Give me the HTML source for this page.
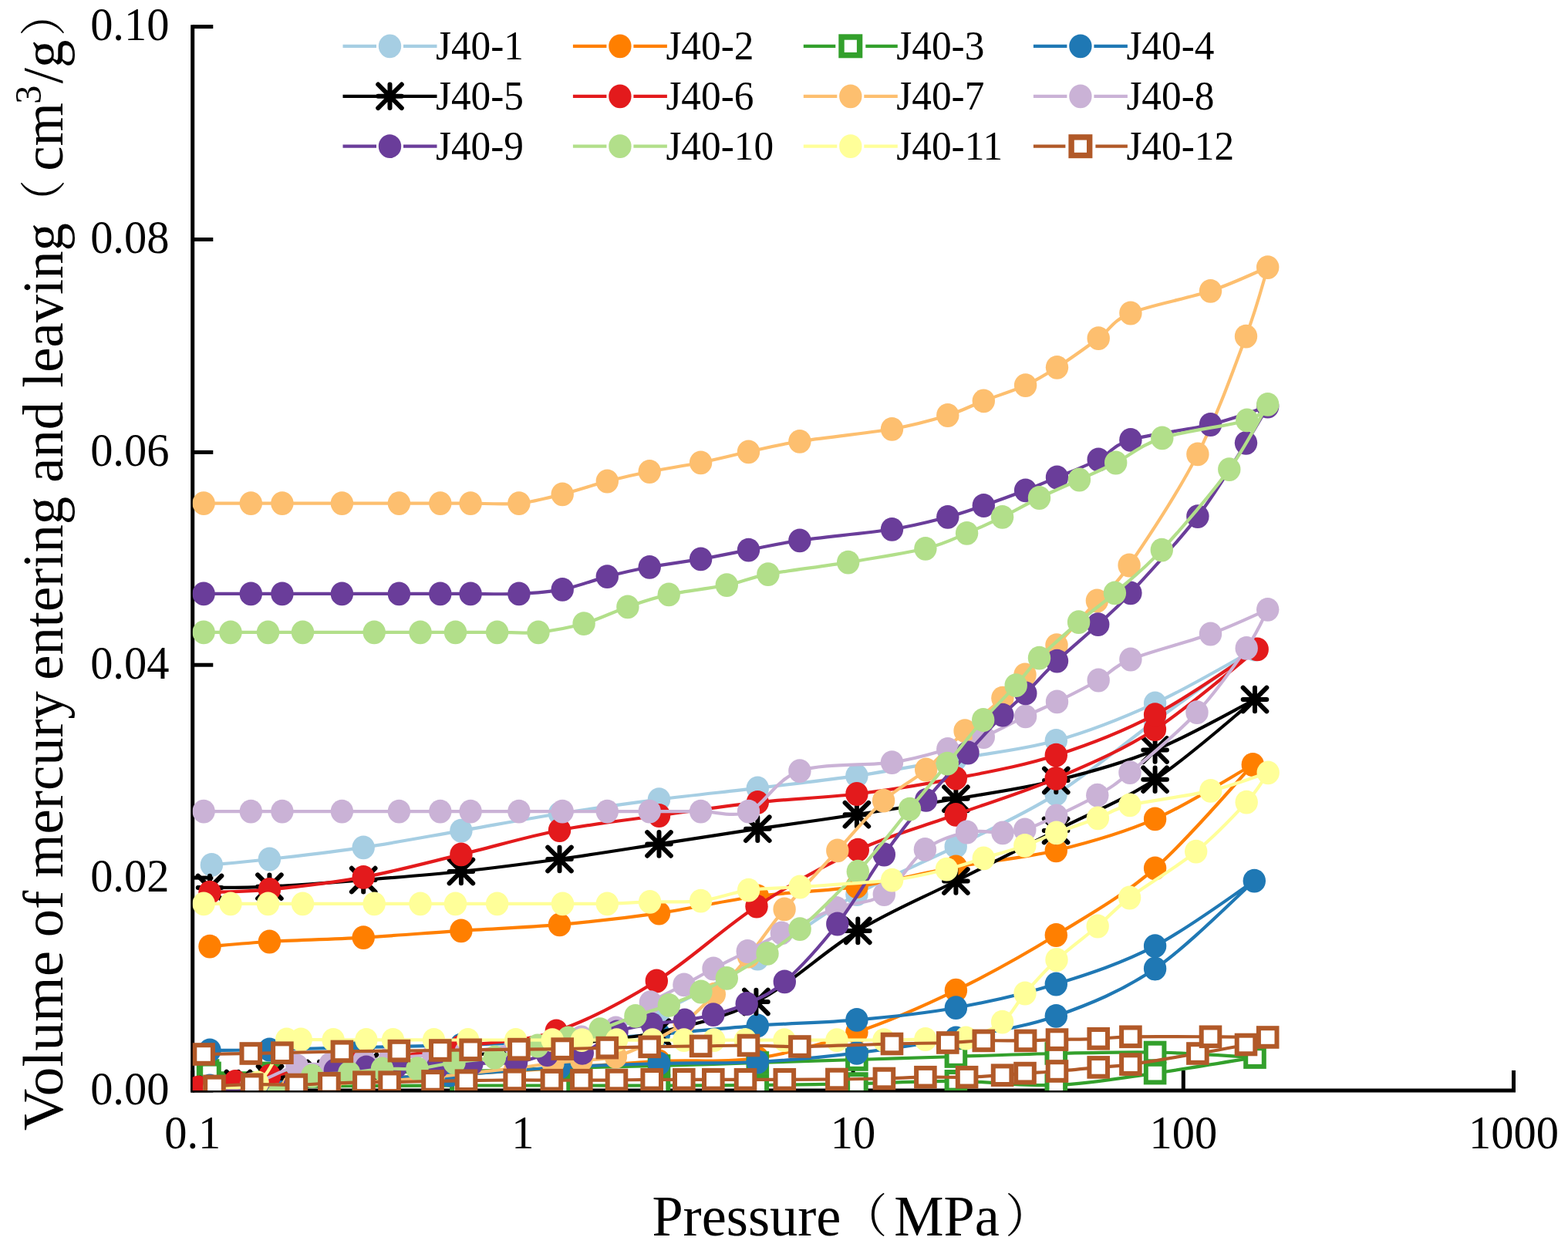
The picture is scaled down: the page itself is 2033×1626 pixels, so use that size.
<!DOCTYPE html><html><head><meta charset="utf-8"><title>Mercury intrusion chart</title><style>html,body{margin:0;padding:0;background:#fff;}svg{display:block;}.t{font-family:"Liberation Serif","Noto Serif CJK SC",serif;fill:#000;}</style></head><body>
<svg xmlns="http://www.w3.org/2000/svg" width="2033" height="1626" viewBox="0 0 2033 1626">
<rect width="2033" height="1626" fill="#fff"/>
<defs><clipPath id="pa"><rect x="249.7" y="20" width="1720" height="1394.0"/></clipPath></defs>
<g stroke="#000" stroke-width="5" fill="none">
<path d="M249.7,32.3V1416.5"/>
<path d="M247.2,1414.0H1965"/>
<path d="M249.7,1414.0H276.3"/>
<path d="M249.7,1138.1H276.3"/>
<path d="M249.7,862.2H276.3"/>
<path d="M249.7,586.4H276.3"/>
<path d="M249.7,310.5H276.3"/>
<path d="M249.7,34.6H276.3"/>
<path d="M249.7,1414.0V1387.9"/>
<path d="M677.9,1414.0V1387.9"/>
<path d="M1106.1,1414.0V1387.9"/>
<path d="M1534.3,1414.0V1387.9"/>
<path d="M1962.5,1414.0V1387.9"/>
</g>
<text class="t" transform="translate(219.5,1431.8) scale(1,1.045)" font-size="58.5" text-anchor="end">0.00</text>
<text class="t" transform="translate(219.5,1155.9) scale(1,1.045)" font-size="58.5" text-anchor="end">0.02</text>
<text class="t" transform="translate(219.5,880.0) scale(1,1.045)" font-size="58.5" text-anchor="end">0.04</text>
<text class="t" transform="translate(219.5,604.2) scale(1,1.045)" font-size="58.5" text-anchor="end">0.06</text>
<text class="t" transform="translate(219.5,328.3) scale(1,1.045)" font-size="58.5" text-anchor="end">0.08</text>
<text class="t" transform="translate(219.5,52.4) scale(1,1.045)" font-size="58.5" text-anchor="end">0.10</text>
<text class="t" transform="translate(249.7,1488.5) scale(1,1.045)" font-size="58.5" text-anchor="middle">0.1</text>
<text class="t" transform="translate(677.9,1488.5) scale(1,1.045)" font-size="58.5" text-anchor="middle">1</text>
<text class="t" transform="translate(1106.1,1488.5) scale(1,1.045)" font-size="58.5" text-anchor="middle">10</text>
<text class="t" transform="translate(1534.3,1488.5) scale(1,1.045)" font-size="58.5" text-anchor="middle">100</text>
<text class="t" transform="translate(1962.5,1488.5) scale(1,1.045)" font-size="58.5" text-anchor="middle">1000</text>
<text class="t" transform="translate(845.4,1602.3) scale(0.977,1)" font-size="74">Pressure<tspan x="252.2" dy="-4" font-size="60">（</tspan><tspan x="321.3" dy="4">MPa</tspan><tspan x="468.7" dy="-4" font-size="60">）</tspan></text>
<text class="t" transform="translate(81.2,1465) rotate(-90) scale(0.981,1)" font-size="74"><tspan x="-1" y="0" textLength="237.6" lengthAdjust="spacingAndGlyphs">Volume</tspan> <tspan x="254.5">of</tspan> <tspan x="333.4">mercury</tspan> <tspan x="594.5">entering and leaving</tspan><tspan x="1196" y="-3.5" font-size="60">（</tspan><tspan x="1267.3" y="0">cm</tspan><tspan x="1355.9" y="-28.3" font-size="49">3</tspan><tspan x="1383.1" y="0">/g</tspan><tspan x="1445.4" y="-3.5" font-size="60">）</tspan></text>
<g clip-path="url(#pa)">
<path d="M272.0,1400.0 C284.9,1399.3 316.2,1397.7 349.4,1396.0 C382.6,1394.3 429.8,1393.0 471.2,1390.0 C512.6,1387.0 555.5,1384.3 597.9,1378.0 C640.3,1371.7 682.7,1363.0 725.5,1352.0 C768.3,1341.0 811.7,1330.2 854.5,1312.0 C897.3,1293.8 939.6,1268.4 982.3,1243.0 C1025.0,1217.6 1068.1,1183.7 1110.9,1159.5 C1153.7,1135.3 1196.2,1119.3 1239.2,1097.7 C1282.2,1076.1 1326.0,1057.0 1369.1,1029.9 C1412.2,1002.8 1454.6,966.3 1497.6,935.0 C1540.6,903.7 1605.4,857.5 1627.0,842.0 C1605.4,853.6 1540.5,892.1 1497.6,911.8 C1454.6,931.5 1412.3,948.3 1369.3,960.3 C1326.3,972.3 1282.5,976.4 1239.4,984.0 C1196.3,991.6 1153.8,999.6 1110.9,1005.9 C1068.1,1012.2 1025.0,1016.7 982.3,1021.8 C939.6,1026.9 897.3,1031.1 854.5,1036.6 C811.7,1042.1 768.3,1048.2 725.5,1055.0 C682.7,1061.8 640.3,1069.8 597.9,1077.1 C555.5,1084.4 512.6,1092.6 471.2,1098.8 C429.8,1105.0 382.2,1110.2 349.4,1114.0 C316.6,1117.8 286.9,1120.2 274.4,1121.4" fill="none" stroke="#a6cee3" stroke-width="4.2" stroke-linejoin="round"/>
<ellipse cx="272.0" cy="1400.0" rx="14.7" ry="15.4" fill="#a6cee3"/>
<ellipse cx="349.4" cy="1396.0" rx="14.7" ry="15.4" fill="#a6cee3"/>
<ellipse cx="471.2" cy="1390.0" rx="14.7" ry="15.4" fill="#a6cee3"/>
<ellipse cx="597.9" cy="1378.0" rx="14.7" ry="15.4" fill="#a6cee3"/>
<ellipse cx="725.5" cy="1352.0" rx="14.7" ry="15.4" fill="#a6cee3"/>
<ellipse cx="854.5" cy="1312.0" rx="14.7" ry="15.4" fill="#a6cee3"/>
<ellipse cx="982.3" cy="1243.0" rx="14.7" ry="15.4" fill="#a6cee3"/>
<ellipse cx="1110.9" cy="1159.5" rx="14.7" ry="15.4" fill="#a6cee3"/>
<ellipse cx="1239.2" cy="1097.7" rx="14.7" ry="15.4" fill="#a6cee3"/>
<ellipse cx="1369.1" cy="1029.9" rx="14.7" ry="15.4" fill="#a6cee3"/>
<ellipse cx="1497.6" cy="935.0" rx="14.7" ry="15.4" fill="#a6cee3"/>
<ellipse cx="1627.0" cy="842.0" rx="14.7" ry="15.4" fill="#a6cee3"/>
<ellipse cx="1497.6" cy="911.8" rx="14.7" ry="15.4" fill="#a6cee3"/>
<ellipse cx="1369.3" cy="960.3" rx="14.7" ry="15.4" fill="#a6cee3"/>
<ellipse cx="1239.4" cy="984.0" rx="14.7" ry="15.4" fill="#a6cee3"/>
<ellipse cx="1110.9" cy="1005.9" rx="14.7" ry="15.4" fill="#a6cee3"/>
<ellipse cx="982.3" cy="1021.8" rx="14.7" ry="15.4" fill="#a6cee3"/>
<ellipse cx="854.5" cy="1036.6" rx="14.7" ry="15.4" fill="#a6cee3"/>
<ellipse cx="725.5" cy="1055.0" rx="14.7" ry="15.4" fill="#a6cee3"/>
<ellipse cx="597.9" cy="1077.1" rx="14.7" ry="15.4" fill="#a6cee3"/>
<ellipse cx="471.2" cy="1098.8" rx="14.7" ry="15.4" fill="#a6cee3"/>
<ellipse cx="349.4" cy="1114.0" rx="14.7" ry="15.4" fill="#a6cee3"/>
<ellipse cx="274.4" cy="1121.4" rx="14.7" ry="15.4" fill="#a6cee3"/>
<path d="M272.0,1406.0 C284.9,1405.7 316.2,1405.2 349.4,1404.0 C382.6,1402.8 429.8,1400.8 471.2,1399.0 C512.6,1397.2 555.5,1395.3 597.9,1393.0 C640.3,1390.7 682.7,1387.8 725.5,1385.0 C768.3,1382.2 811.7,1378.2 854.5,1376.0 C897.3,1373.8 939.6,1378.3 982.3,1372.0 C1025.0,1365.7 1068.1,1353.0 1110.9,1338.4 C1153.8,1323.8 1196.3,1305.2 1239.4,1284.2 C1282.5,1263.2 1326.3,1238.9 1369.3,1212.5 C1412.3,1186.1 1455.1,1162.6 1497.6,1125.8 C1540.1,1089.0 1603.2,1013.9 1624.3,991.5 C1603.2,1003.2 1540.1,1043.4 1497.6,1061.9 C1455.1,1080.5 1412.3,1092.5 1369.3,1102.8 C1326.3,1113.1 1282.5,1116.2 1239.4,1124.0 C1196.3,1131.8 1153.8,1143.4 1110.9,1149.7 C1068.1,1156.0 1025.0,1156.3 982.3,1162.0 C939.6,1167.7 897.3,1177.9 854.5,1184.1 C811.7,1190.2 768.3,1195.1 725.5,1198.9 C682.7,1202.7 640.3,1204.0 597.9,1206.8 C555.5,1209.6 512.6,1213.2 471.2,1215.6 C429.8,1218.0 382.6,1219.1 349.4,1221.0 C316.2,1222.9 284.9,1226.2 272.0,1227.2" fill="none" stroke="#ff7f00" stroke-width="4.2" stroke-linejoin="round"/>
<ellipse cx="272.0" cy="1406.0" rx="14.7" ry="15.4" fill="#ff7f00"/>
<ellipse cx="349.4" cy="1404.0" rx="14.7" ry="15.4" fill="#ff7f00"/>
<ellipse cx="471.2" cy="1399.0" rx="14.7" ry="15.4" fill="#ff7f00"/>
<ellipse cx="597.9" cy="1393.0" rx="14.7" ry="15.4" fill="#ff7f00"/>
<ellipse cx="725.5" cy="1385.0" rx="14.7" ry="15.4" fill="#ff7f00"/>
<ellipse cx="854.5" cy="1376.0" rx="14.7" ry="15.4" fill="#ff7f00"/>
<ellipse cx="982.3" cy="1372.0" rx="14.7" ry="15.4" fill="#ff7f00"/>
<ellipse cx="1110.9" cy="1338.4" rx="14.7" ry="15.4" fill="#ff7f00"/>
<ellipse cx="1239.4" cy="1284.2" rx="14.7" ry="15.4" fill="#ff7f00"/>
<ellipse cx="1369.3" cy="1212.5" rx="14.7" ry="15.4" fill="#ff7f00"/>
<ellipse cx="1497.6" cy="1125.8" rx="14.7" ry="15.4" fill="#ff7f00"/>
<ellipse cx="1624.3" cy="991.5" rx="14.7" ry="15.4" fill="#ff7f00"/>
<ellipse cx="1497.6" cy="1061.9" rx="14.7" ry="15.4" fill="#ff7f00"/>
<ellipse cx="1369.3" cy="1102.8" rx="14.7" ry="15.4" fill="#ff7f00"/>
<ellipse cx="1239.4" cy="1124.0" rx="14.7" ry="15.4" fill="#ff7f00"/>
<ellipse cx="1110.9" cy="1149.7" rx="14.7" ry="15.4" fill="#ff7f00"/>
<ellipse cx="982.3" cy="1162.0" rx="14.7" ry="15.4" fill="#ff7f00"/>
<ellipse cx="854.5" cy="1184.1" rx="14.7" ry="15.4" fill="#ff7f00"/>
<ellipse cx="725.5" cy="1198.9" rx="14.7" ry="15.4" fill="#ff7f00"/>
<ellipse cx="597.9" cy="1206.8" rx="14.7" ry="15.4" fill="#ff7f00"/>
<ellipse cx="471.2" cy="1215.6" rx="14.7" ry="15.4" fill="#ff7f00"/>
<ellipse cx="349.4" cy="1221.0" rx="14.7" ry="15.4" fill="#ff7f00"/>
<ellipse cx="272.0" cy="1227.2" rx="14.7" ry="15.4" fill="#ff7f00"/>
<path d="M269.6,1388.0 C282.9,1391.2 315.8,1403.7 349.4,1407.0 C383.0,1410.3 429.8,1407.9 471.2,1408.0 C512.6,1408.1 555.5,1407.6 597.9,1407.5 C640.3,1407.4 682.7,1407.5 725.5,1407.5 C768.3,1407.5 811.7,1407.6 854.5,1407.5 C897.3,1407.4 939.6,1407.4 982.3,1407.0 C1025.0,1406.6 1068.1,1405.9 1110.9,1405.0 C1153.8,1404.1 1196.3,1401.5 1239.4,1401.8 C1282.5,1402.1 1326.3,1408.7 1369.3,1407.0 C1412.3,1405.3 1454.6,1397.6 1497.6,1391.6 C1540.5,1385.6 1605.4,1374.5 1627.0,1371.1 C1605.4,1370.0 1540.5,1365.3 1497.6,1364.5 C1454.6,1363.7 1412.3,1365.1 1369.3,1366.0 C1326.3,1366.9 1282.5,1368.7 1239.4,1370.0 C1196.3,1371.3 1153.8,1372.7 1110.9,1374.0 C1068.1,1375.3 1025.0,1376.7 982.3,1378.0 C939.6,1379.3 897.3,1380.8 854.5,1382.0 C811.7,1383.2 768.3,1383.8 725.5,1385.0 C682.7,1386.2 640.3,1388.1 597.9,1389.0 C555.5,1389.9 512.6,1390.1 471.2,1390.5 C429.8,1390.9 382.6,1391.2 349.4,1391.4 C316.2,1391.6 284.9,1391.4 272.0,1391.4" fill="none" stroke="#33a02c" stroke-width="4.2" stroke-linejoin="round"/>
<rect x="257.8" y="1376.2" width="23.6" height="23.6" fill="#fff" stroke="#33a02c" stroke-width="6"/>
<rect x="337.6" y="1395.2" width="23.6" height="23.6" fill="#fff" stroke="#33a02c" stroke-width="6"/>
<rect x="459.4" y="1396.2" width="23.6" height="23.6" fill="#fff" stroke="#33a02c" stroke-width="6"/>
<rect x="586.1" y="1395.7" width="23.6" height="23.6" fill="#fff" stroke="#33a02c" stroke-width="6"/>
<rect x="713.7" y="1395.7" width="23.6" height="23.6" fill="#fff" stroke="#33a02c" stroke-width="6"/>
<rect x="842.7" y="1395.7" width="23.6" height="23.6" fill="#fff" stroke="#33a02c" stroke-width="6"/>
<rect x="970.5" y="1395.2" width="23.6" height="23.6" fill="#fff" stroke="#33a02c" stroke-width="6"/>
<rect x="1099.1" y="1393.2" width="23.6" height="23.6" fill="#fff" stroke="#33a02c" stroke-width="6"/>
<rect x="1227.6" y="1390.0" width="23.6" height="23.6" fill="#fff" stroke="#33a02c" stroke-width="6"/>
<rect x="1357.5" y="1395.2" width="23.6" height="23.6" fill="#fff" stroke="#33a02c" stroke-width="6"/>
<rect x="1485.8" y="1379.8" width="23.6" height="23.6" fill="#fff" stroke="#33a02c" stroke-width="6"/>
<rect x="1615.2" y="1359.3" width="23.6" height="23.6" fill="#fff" stroke="#33a02c" stroke-width="6"/>
<rect x="1485.8" y="1352.7" width="23.6" height="23.6" fill="#fff" stroke="#33a02c" stroke-width="6"/>
<rect x="1357.5" y="1354.2" width="23.6" height="23.6" fill="#fff" stroke="#33a02c" stroke-width="6"/>
<rect x="1227.6" y="1358.2" width="23.6" height="23.6" fill="#fff" stroke="#33a02c" stroke-width="6"/>
<rect x="1099.1" y="1362.2" width="23.6" height="23.6" fill="#fff" stroke="#33a02c" stroke-width="6"/>
<rect x="970.5" y="1366.2" width="23.6" height="23.6" fill="#fff" stroke="#33a02c" stroke-width="6"/>
<rect x="842.7" y="1370.2" width="23.6" height="23.6" fill="#fff" stroke="#33a02c" stroke-width="6"/>
<rect x="713.7" y="1373.2" width="23.6" height="23.6" fill="#fff" stroke="#33a02c" stroke-width="6"/>
<rect x="586.1" y="1377.2" width="23.6" height="23.6" fill="#fff" stroke="#33a02c" stroke-width="6"/>
<rect x="459.4" y="1378.7" width="23.6" height="23.6" fill="#fff" stroke="#33a02c" stroke-width="6"/>
<rect x="337.6" y="1379.6" width="23.6" height="23.6" fill="#fff" stroke="#33a02c" stroke-width="6"/>
<rect x="260.2" y="1379.6" width="23.6" height="23.6" fill="#fff" stroke="#33a02c" stroke-width="6"/>
<path d="M272.0,1408.0 C284.9,1407.0 316.2,1403.7 349.4,1402.0 C382.6,1400.3 432.3,1399.3 471.2,1398.0 C510.1,1396.7 540.6,1396.3 583.0,1394.0 C625.4,1391.7 680.2,1386.5 725.5,1384.0 C770.8,1381.5 811.7,1380.2 854.5,1379.0 C897.3,1377.8 939.6,1379.3 982.3,1377.0 C1025.0,1374.7 1068.1,1370.6 1110.9,1365.4 C1153.8,1360.2 1196.3,1354.0 1239.4,1346.0 C1282.5,1338.0 1326.3,1332.4 1369.3,1317.4 C1412.3,1302.4 1454.8,1285.2 1497.6,1256.0 C1540.4,1226.8 1604.8,1161.2 1626.3,1142.2 C1604.8,1156.3 1540.4,1204.3 1497.6,1226.6 C1454.8,1248.9 1412.3,1262.7 1369.3,1276.0 C1326.3,1289.3 1282.5,1299.0 1239.4,1306.7 C1196.3,1314.4 1153.8,1318.6 1110.9,1322.4 C1068.1,1326.2 1025.0,1326.7 982.3,1329.8 C939.6,1332.9 897.3,1337.6 854.5,1341.0 C811.7,1344.4 768.3,1347.7 725.5,1350.0 C682.7,1352.3 640.3,1353.7 597.9,1355.0 C555.5,1356.3 512.6,1357.0 471.2,1358.0 C429.8,1359.0 382.6,1360.3 349.4,1361.0 C316.2,1361.7 284.9,1361.8 272.0,1362.0" fill="none" stroke="#1f78b4" stroke-width="4.2" stroke-linejoin="round"/>
<ellipse cx="272.0" cy="1408.0" rx="14.7" ry="15.4" fill="#1f78b4"/>
<ellipse cx="349.4" cy="1402.0" rx="14.7" ry="15.4" fill="#1f78b4"/>
<ellipse cx="471.2" cy="1398.0" rx="14.7" ry="15.4" fill="#1f78b4"/>
<ellipse cx="583.0" cy="1394.0" rx="14.7" ry="15.4" fill="#1f78b4"/>
<ellipse cx="725.5" cy="1384.0" rx="14.7" ry="15.4" fill="#1f78b4"/>
<ellipse cx="854.5" cy="1379.0" rx="14.7" ry="15.4" fill="#1f78b4"/>
<ellipse cx="982.3" cy="1377.0" rx="14.7" ry="15.4" fill="#1f78b4"/>
<ellipse cx="1110.9" cy="1365.4" rx="14.7" ry="15.4" fill="#1f78b4"/>
<ellipse cx="1239.4" cy="1346.0" rx="14.7" ry="15.4" fill="#1f78b4"/>
<ellipse cx="1369.3" cy="1317.4" rx="14.7" ry="15.4" fill="#1f78b4"/>
<ellipse cx="1497.6" cy="1256.0" rx="14.7" ry="15.4" fill="#1f78b4"/>
<ellipse cx="1626.3" cy="1142.2" rx="14.7" ry="15.4" fill="#1f78b4"/>
<ellipse cx="1497.6" cy="1226.6" rx="14.7" ry="15.4" fill="#1f78b4"/>
<ellipse cx="1369.3" cy="1276.0" rx="14.7" ry="15.4" fill="#1f78b4"/>
<ellipse cx="1239.4" cy="1306.7" rx="14.7" ry="15.4" fill="#1f78b4"/>
<ellipse cx="1110.9" cy="1322.4" rx="14.7" ry="15.4" fill="#1f78b4"/>
<ellipse cx="982.3" cy="1329.8" rx="14.7" ry="15.4" fill="#1f78b4"/>
<ellipse cx="854.5" cy="1341.0" rx="14.7" ry="15.4" fill="#1f78b4"/>
<ellipse cx="725.5" cy="1350.0" rx="14.7" ry="15.4" fill="#1f78b4"/>
<ellipse cx="597.9" cy="1355.0" rx="14.7" ry="15.4" fill="#1f78b4"/>
<ellipse cx="471.2" cy="1358.0" rx="14.7" ry="15.4" fill="#1f78b4"/>
<ellipse cx="349.4" cy="1361.0" rx="14.7" ry="15.4" fill="#1f78b4"/>
<ellipse cx="272.0" cy="1362.0" rx="14.7" ry="15.4" fill="#1f78b4"/>
<path d="M275.0,1413.0 C280.7,1411.7 296.5,1407.5 309.0,1405.0 C321.5,1402.5 332.5,1400.2 350.0,1398.0 C367.5,1395.8 393.5,1394.5 414.0,1392.0 C434.5,1389.5 442.4,1386.7 473.0,1383.0 C503.6,1379.3 555.8,1374.7 597.9,1370.0 C640.0,1365.3 683.1,1360.2 725.5,1355.0 C767.9,1349.8 809.5,1348.0 852.0,1338.7 C894.5,1329.4 937.0,1321.0 980.4,1299.0 C1023.8,1277.0 1069.1,1233.0 1112.3,1206.9 C1155.5,1180.8 1196.6,1164.2 1239.4,1142.5 C1282.2,1120.8 1326.1,1099.0 1369.1,1077.0 C1412.1,1055.0 1454.6,1039.0 1497.6,1010.7 C1540.6,982.4 1605.4,924.3 1627.0,907.0 C1605.4,917.9 1540.5,955.0 1497.6,972.5 C1454.6,990.0 1412.3,1001.5 1369.3,1012.0 C1326.3,1022.5 1282.5,1028.4 1239.4,1035.8 C1196.3,1043.2 1153.8,1049.7 1110.9,1056.2 C1068.1,1062.7 1025.0,1068.3 982.3,1074.7 C939.6,1081.1 897.3,1087.9 854.5,1094.4 C811.7,1101.0 768.3,1108.1 725.5,1114.0 C682.7,1119.9 640.3,1125.5 597.9,1130.0 C555.5,1134.5 512.6,1137.8 471.2,1141.1 C429.8,1144.4 382.6,1148.0 349.4,1149.7 C316.2,1151.4 284.9,1150.8 272.0,1151.0" fill="none" stroke="#000000" stroke-width="4.2" stroke-linejoin="round"/>
<path d="M275.0,1397.7v30.6M259.7,1413.0h30.6M259.7,1397.7l30.6,30.6M259.7,1428.3l30.6,-30.6" stroke="#000000" stroke-width="6" stroke-linecap="round" fill="none"/>
<path d="M309.0,1389.7v30.6M293.7,1405.0h30.6M293.7,1389.7l30.6,30.6M293.7,1420.3l30.6,-30.6" stroke="#000000" stroke-width="6" stroke-linecap="round" fill="none"/>
<path d="M350.0,1382.7v30.6M334.7,1398.0h30.6M334.7,1382.7l30.6,30.6M334.7,1413.3l30.6,-30.6" stroke="#000000" stroke-width="6" stroke-linecap="round" fill="none"/>
<path d="M414.0,1376.7v30.6M398.7,1392.0h30.6M398.7,1376.7l30.6,30.6M398.7,1407.3l30.6,-30.6" stroke="#000000" stroke-width="6" stroke-linecap="round" fill="none"/>
<path d="M473.0,1367.7v30.6M457.7,1383.0h30.6M457.7,1367.7l30.6,30.6M457.7,1398.3l30.6,-30.6" stroke="#000000" stroke-width="6" stroke-linecap="round" fill="none"/>
<path d="M597.9,1354.7v30.6M582.6,1370.0h30.6M582.6,1354.7l30.6,30.6M582.6,1385.3l30.6,-30.6" stroke="#000000" stroke-width="6" stroke-linecap="round" fill="none"/>
<path d="M725.5,1339.7v30.6M710.2,1355.0h30.6M710.2,1339.7l30.6,30.6M710.2,1370.3l30.6,-30.6" stroke="#000000" stroke-width="6" stroke-linecap="round" fill="none"/>
<path d="M852.0,1323.4v30.6M836.7,1338.7h30.6M836.7,1323.4l30.6,30.6M836.7,1354.0l30.6,-30.6" stroke="#000000" stroke-width="6" stroke-linecap="round" fill="none"/>
<path d="M980.4,1283.7v30.6M965.1,1299.0h30.6M965.1,1283.7l30.6,30.6M965.1,1314.3l30.6,-30.6" stroke="#000000" stroke-width="6" stroke-linecap="round" fill="none"/>
<path d="M1112.3,1191.6v30.6M1097.0,1206.9h30.6M1097.0,1191.6l30.6,30.6M1097.0,1222.2l30.6,-30.6" stroke="#000000" stroke-width="6" stroke-linecap="round" fill="none"/>
<path d="M1239.4,1127.2v30.6M1224.1,1142.5h30.6M1224.1,1127.2l30.6,30.6M1224.1,1157.8l30.6,-30.6" stroke="#000000" stroke-width="6" stroke-linecap="round" fill="none"/>
<path d="M1369.1,1061.7v30.6M1353.8,1077.0h30.6M1353.8,1061.7l30.6,30.6M1353.8,1092.3l30.6,-30.6" stroke="#000000" stroke-width="6" stroke-linecap="round" fill="none"/>
<path d="M1497.6,995.4v30.6M1482.3,1010.7h30.6M1482.3,995.4l30.6,30.6M1482.3,1026.0l30.6,-30.6" stroke="#000000" stroke-width="6" stroke-linecap="round" fill="none"/>
<path d="M1627.0,891.7v30.6M1611.7,907.0h30.6M1611.7,891.7l30.6,30.6M1611.7,922.3l30.6,-30.6" stroke="#000000" stroke-width="6" stroke-linecap="round" fill="none"/>
<path d="M1497.6,957.2v30.6M1482.3,972.5h30.6M1482.3,957.2l30.6,30.6M1482.3,987.8l30.6,-30.6" stroke="#000000" stroke-width="6" stroke-linecap="round" fill="none"/>
<path d="M1369.3,996.7v30.6M1354.0,1012.0h30.6M1354.0,996.7l30.6,30.6M1354.0,1027.3l30.6,-30.6" stroke="#000000" stroke-width="6" stroke-linecap="round" fill="none"/>
<path d="M1239.4,1020.5v30.6M1224.1,1035.8h30.6M1224.1,1020.5l30.6,30.6M1224.1,1051.1l30.6,-30.6" stroke="#000000" stroke-width="6" stroke-linecap="round" fill="none"/>
<path d="M1110.9,1040.9v30.6M1095.6,1056.2h30.6M1095.6,1040.9l30.6,30.6M1095.6,1071.5l30.6,-30.6" stroke="#000000" stroke-width="6" stroke-linecap="round" fill="none"/>
<path d="M982.3,1059.4v30.6M967.0,1074.7h30.6M967.0,1059.4l30.6,30.6M967.0,1090.0l30.6,-30.6" stroke="#000000" stroke-width="6" stroke-linecap="round" fill="none"/>
<path d="M854.5,1079.1v30.6M839.2,1094.4h30.6M839.2,1079.1l30.6,30.6M839.2,1109.7l30.6,-30.6" stroke="#000000" stroke-width="6" stroke-linecap="round" fill="none"/>
<path d="M725.5,1098.7v30.6M710.2,1114.0h30.6M710.2,1098.7l30.6,30.6M710.2,1129.3l30.6,-30.6" stroke="#000000" stroke-width="6" stroke-linecap="round" fill="none"/>
<path d="M597.9,1114.7v30.6M582.6,1130.0h30.6M582.6,1114.7l30.6,30.6M582.6,1145.3l30.6,-30.6" stroke="#000000" stroke-width="6" stroke-linecap="round" fill="none"/>
<path d="M471.2,1125.8v30.6M455.9,1141.1h30.6M455.9,1125.8l30.6,30.6M455.9,1156.4l30.6,-30.6" stroke="#000000" stroke-width="6" stroke-linecap="round" fill="none"/>
<path d="M349.4,1134.4v30.6M334.1,1149.7h30.6M334.1,1134.4l30.6,30.6M334.1,1165.0l30.6,-30.6" stroke="#000000" stroke-width="6" stroke-linecap="round" fill="none"/>
<path d="M272.0,1135.7v30.6M256.7,1151.0h30.6M256.7,1135.7l30.6,30.6M256.7,1166.3l30.6,-30.6" stroke="#000000" stroke-width="6" stroke-linecap="round" fill="none"/>
<path d="M257.0,1410.0 C265.0,1408.8 289.6,1405.0 305.0,1402.5 C320.4,1400.0 322.9,1399.1 349.6,1395.0 C376.3,1390.9 423.6,1384.3 465.0,1378.0 C506.4,1371.7 555.2,1363.8 597.9,1357.0 C640.6,1350.2 679.1,1351.2 721.3,1337.0 C763.5,1322.8 808.0,1299.0 851.3,1272.0 C894.6,1245.0 937.5,1203.5 981.0,1175.2 C1024.5,1146.9 1069.2,1121.9 1112.3,1102.1 C1155.3,1082.3 1196.5,1071.8 1239.3,1056.3 C1282.1,1040.8 1326.1,1027.8 1369.1,1009.4 C1412.1,991.0 1453.9,973.6 1497.4,945.7 C1540.9,917.8 1608.1,859.2 1630.2,841.9 C1608.1,856.0 1541.1,903.7 1497.6,926.6 C1454.1,949.5 1412.3,965.5 1369.3,979.2 C1326.3,993.0 1282.5,1000.7 1239.4,1009.1 C1196.3,1017.5 1153.8,1024.3 1110.9,1029.5 C1068.1,1034.7 1025.0,1035.6 982.3,1040.3 C939.6,1045.0 897.3,1051.5 854.5,1057.5 C811.7,1063.5 768.3,1068.1 725.5,1076.5 C682.7,1084.9 640.3,1097.8 597.9,1107.9 C555.5,1118.1 512.6,1129.8 471.2,1137.4 C429.8,1145.0 382.6,1150.1 349.4,1153.4 C316.2,1156.7 284.9,1156.5 272.0,1157.1" fill="none" stroke="#e31a1c" stroke-width="4.2" stroke-linejoin="round"/>
<ellipse cx="257.0" cy="1410.0" rx="14.7" ry="15.4" fill="#e31a1c"/>
<ellipse cx="305.0" cy="1402.5" rx="14.7" ry="15.4" fill="#e31a1c"/>
<ellipse cx="349.6" cy="1395.0" rx="14.7" ry="15.4" fill="#e31a1c"/>
<ellipse cx="465.0" cy="1378.0" rx="14.7" ry="15.4" fill="#e31a1c"/>
<ellipse cx="597.9" cy="1357.0" rx="14.7" ry="15.4" fill="#e31a1c"/>
<ellipse cx="721.3" cy="1337.0" rx="14.7" ry="15.4" fill="#e31a1c"/>
<ellipse cx="851.3" cy="1272.0" rx="14.7" ry="15.4" fill="#e31a1c"/>
<ellipse cx="981.0" cy="1175.2" rx="14.7" ry="15.4" fill="#e31a1c"/>
<ellipse cx="1112.3" cy="1102.1" rx="14.7" ry="15.4" fill="#e31a1c"/>
<ellipse cx="1239.3" cy="1056.3" rx="14.7" ry="15.4" fill="#e31a1c"/>
<ellipse cx="1369.1" cy="1009.4" rx="14.7" ry="15.4" fill="#e31a1c"/>
<ellipse cx="1497.4" cy="945.7" rx="14.7" ry="15.4" fill="#e31a1c"/>
<ellipse cx="1630.2" cy="841.9" rx="14.7" ry="15.4" fill="#e31a1c"/>
<ellipse cx="1497.6" cy="926.6" rx="14.7" ry="15.4" fill="#e31a1c"/>
<ellipse cx="1369.3" cy="979.2" rx="14.7" ry="15.4" fill="#e31a1c"/>
<ellipse cx="1239.4" cy="1009.1" rx="14.7" ry="15.4" fill="#e31a1c"/>
<ellipse cx="1110.9" cy="1029.5" rx="14.7" ry="15.4" fill="#e31a1c"/>
<ellipse cx="982.3" cy="1040.3" rx="14.7" ry="15.4" fill="#e31a1c"/>
<ellipse cx="854.5" cy="1057.5" rx="14.7" ry="15.4" fill="#e31a1c"/>
<ellipse cx="725.5" cy="1076.5" rx="14.7" ry="15.4" fill="#e31a1c"/>
<ellipse cx="597.9" cy="1107.9" rx="14.7" ry="15.4" fill="#e31a1c"/>
<ellipse cx="471.2" cy="1137.4" rx="14.7" ry="15.4" fill="#e31a1c"/>
<ellipse cx="349.4" cy="1153.4" rx="14.7" ry="15.4" fill="#e31a1c"/>
<ellipse cx="272.0" cy="1157.1" rx="14.7" ry="15.4" fill="#e31a1c"/>
<path d="M278.0,1412.0 C286.0,1411.7 309.0,1410.7 326.0,1410.0 C343.0,1409.3 363.0,1408.7 380.0,1408.0 C397.0,1407.3 412.7,1406.8 428.0,1406.0 C443.3,1405.2 459.1,1403.8 472.0,1403.0 C484.9,1402.2 490.6,1402.0 505.6,1401.0 C520.6,1400.0 545.6,1398.5 562.0,1397.0 C578.4,1395.5 586.3,1394.0 604.0,1392.0 C621.7,1390.0 649.2,1387.2 668.0,1385.0 C686.8,1382.8 702.6,1380.2 716.9,1378.5 C731.2,1376.8 740.2,1376.4 753.8,1375.0 C767.4,1373.6 783.0,1374.2 798.4,1370.0 C813.8,1365.8 831.5,1357.3 846.3,1350.0 C861.0,1342.7 873.6,1336.1 886.9,1326.0 C900.2,1315.9 912.4,1303.5 926.3,1289.2 C940.2,1274.9 955.4,1258.4 970.5,1240.0 C985.6,1221.6 997.9,1201.8 1017.1,1178.9 C1036.3,1156.1 1064.4,1126.4 1085.8,1102.9 C1107.2,1079.5 1126.4,1055.7 1145.6,1038.2 C1164.8,1020.7 1183.1,1013.1 1200.7,998.0 C1218.3,982.9 1234.6,963.2 1251.1,947.7 C1267.6,932.2 1286.9,917.3 1299.9,905.2 C1312.9,893.1 1317.3,886.4 1329.0,875.0 C1340.7,863.6 1354.4,852.6 1370.0,836.6 C1385.6,820.6 1406.7,796.3 1422.4,779.0 C1438.1,761.7 1442.3,764.7 1464.1,733.0 C1485.8,701.3 1527.7,638.4 1552.9,588.9 C1578.1,539.4 1600.4,476.5 1615.5,436.1 C1630.6,395.7 1639.0,361.5 1643.7,346.6 C1631.3,351.7 1599.1,367.4 1569.5,377.3 C1539.9,387.2 1490.1,395.8 1465.9,406.0 C1441.7,416.2 1440.1,427.0 1424.2,438.7 C1408.3,450.4 1386.3,466.1 1370.5,476.3 C1354.7,486.5 1345.5,492.4 1329.6,499.6 C1313.7,506.9 1292.1,513.3 1275.3,519.8 C1258.5,526.3 1248.6,532.4 1228.8,538.5 C1209.0,544.6 1188.5,550.7 1156.5,556.3 C1124.5,561.9 1067.9,567.4 1036.9,572.3 C1005.9,577.2 991.9,581.2 970.5,585.8 C949.1,590.4 930.0,595.5 908.6,599.8 C887.2,604.1 862.4,607.5 842.2,611.5 C822.0,615.5 806.1,619.1 787.3,624.0 C768.5,628.9 748.3,636.0 729.2,640.8 C710.1,645.6 692.8,650.6 672.9,652.6 C653.0,654.6 627.1,652.6 610.1,652.6 C593.1,652.6 586.2,652.6 570.8,652.6 C555.3,652.6 538.6,652.6 517.4,652.6 C496.2,652.6 468.6,652.6 443.4,652.6 C418.1,652.6 385.6,652.6 365.9,652.6 C346.2,652.6 342.3,652.6 325.3,652.6 C308.3,652.6 274.3,652.6 264.1,652.6" fill="none" stroke="#fdbf6f" stroke-width="4.2" stroke-linejoin="round"/>
<ellipse cx="278.0" cy="1412.0" rx="14.7" ry="15.4" fill="#fdbf6f"/>
<ellipse cx="326.0" cy="1410.0" rx="14.7" ry="15.4" fill="#fdbf6f"/>
<ellipse cx="380.0" cy="1408.0" rx="14.7" ry="15.4" fill="#fdbf6f"/>
<ellipse cx="428.0" cy="1406.0" rx="14.7" ry="15.4" fill="#fdbf6f"/>
<ellipse cx="472.0" cy="1403.0" rx="14.7" ry="15.4" fill="#fdbf6f"/>
<ellipse cx="505.6" cy="1401.0" rx="14.7" ry="15.4" fill="#fdbf6f"/>
<ellipse cx="562.0" cy="1397.0" rx="14.7" ry="15.4" fill="#fdbf6f"/>
<ellipse cx="604.0" cy="1392.0" rx="14.7" ry="15.4" fill="#fdbf6f"/>
<ellipse cx="668.0" cy="1385.0" rx="14.7" ry="15.4" fill="#fdbf6f"/>
<ellipse cx="716.9" cy="1378.5" rx="14.7" ry="15.4" fill="#fdbf6f"/>
<ellipse cx="753.8" cy="1375.0" rx="14.7" ry="15.4" fill="#fdbf6f"/>
<ellipse cx="798.4" cy="1370.0" rx="14.7" ry="15.4" fill="#fdbf6f"/>
<ellipse cx="846.3" cy="1350.0" rx="14.7" ry="15.4" fill="#fdbf6f"/>
<ellipse cx="886.9" cy="1326.0" rx="14.7" ry="15.4" fill="#fdbf6f"/>
<ellipse cx="926.3" cy="1289.2" rx="14.7" ry="15.4" fill="#fdbf6f"/>
<ellipse cx="970.5" cy="1240.0" rx="14.7" ry="15.4" fill="#fdbf6f"/>
<ellipse cx="1017.1" cy="1178.9" rx="14.7" ry="15.4" fill="#fdbf6f"/>
<ellipse cx="1085.8" cy="1102.9" rx="14.7" ry="15.4" fill="#fdbf6f"/>
<ellipse cx="1145.6" cy="1038.2" rx="14.7" ry="15.4" fill="#fdbf6f"/>
<ellipse cx="1200.7" cy="998.0" rx="14.7" ry="15.4" fill="#fdbf6f"/>
<ellipse cx="1251.1" cy="947.7" rx="14.7" ry="15.4" fill="#fdbf6f"/>
<ellipse cx="1299.9" cy="905.2" rx="14.7" ry="15.4" fill="#fdbf6f"/>
<ellipse cx="1329.0" cy="875.0" rx="14.7" ry="15.4" fill="#fdbf6f"/>
<ellipse cx="1370.0" cy="836.6" rx="14.7" ry="15.4" fill="#fdbf6f"/>
<ellipse cx="1422.4" cy="779.0" rx="14.7" ry="15.4" fill="#fdbf6f"/>
<ellipse cx="1464.1" cy="733.0" rx="14.7" ry="15.4" fill="#fdbf6f"/>
<ellipse cx="1552.9" cy="588.9" rx="14.7" ry="15.4" fill="#fdbf6f"/>
<ellipse cx="1615.5" cy="436.1" rx="14.7" ry="15.4" fill="#fdbf6f"/>
<ellipse cx="1643.7" cy="346.6" rx="14.7" ry="15.4" fill="#fdbf6f"/>
<ellipse cx="1569.5" cy="377.3" rx="14.7" ry="15.4" fill="#fdbf6f"/>
<ellipse cx="1465.9" cy="406.0" rx="14.7" ry="15.4" fill="#fdbf6f"/>
<ellipse cx="1424.2" cy="438.7" rx="14.7" ry="15.4" fill="#fdbf6f"/>
<ellipse cx="1370.5" cy="476.3" rx="14.7" ry="15.4" fill="#fdbf6f"/>
<ellipse cx="1329.6" cy="499.6" rx="14.7" ry="15.4" fill="#fdbf6f"/>
<ellipse cx="1275.3" cy="519.8" rx="14.7" ry="15.4" fill="#fdbf6f"/>
<ellipse cx="1228.8" cy="538.5" rx="14.7" ry="15.4" fill="#fdbf6f"/>
<ellipse cx="1156.5" cy="556.3" rx="14.7" ry="15.4" fill="#fdbf6f"/>
<ellipse cx="1036.9" cy="572.3" rx="14.7" ry="15.4" fill="#fdbf6f"/>
<ellipse cx="970.5" cy="585.8" rx="14.7" ry="15.4" fill="#fdbf6f"/>
<ellipse cx="908.6" cy="599.8" rx="14.7" ry="15.4" fill="#fdbf6f"/>
<ellipse cx="842.2" cy="611.5" rx="14.7" ry="15.4" fill="#fdbf6f"/>
<ellipse cx="787.3" cy="624.0" rx="14.7" ry="15.4" fill="#fdbf6f"/>
<ellipse cx="729.2" cy="640.8" rx="14.7" ry="15.4" fill="#fdbf6f"/>
<ellipse cx="672.9" cy="652.6" rx="14.7" ry="15.4" fill="#fdbf6f"/>
<ellipse cx="610.1" cy="652.6" rx="14.7" ry="15.4" fill="#fdbf6f"/>
<ellipse cx="570.8" cy="652.6" rx="14.7" ry="15.4" fill="#fdbf6f"/>
<ellipse cx="517.4" cy="652.6" rx="14.7" ry="15.4" fill="#fdbf6f"/>
<ellipse cx="443.4" cy="652.6" rx="14.7" ry="15.4" fill="#fdbf6f"/>
<ellipse cx="365.9" cy="652.6" rx="14.7" ry="15.4" fill="#fdbf6f"/>
<ellipse cx="325.3" cy="652.6" rx="14.7" ry="15.4" fill="#fdbf6f"/>
<ellipse cx="264.1" cy="652.6" rx="14.7" ry="15.4" fill="#fdbf6f"/>
<path d="M278.0,1412.0 C286.0,1411.0 308.2,1411.0 326.0,1406.0 C343.8,1401.0 368.0,1386.3 385.0,1382.0 C402.0,1377.7 413.5,1381.2 428.0,1380.0 C442.5,1378.8 459.1,1376.3 472.0,1375.0 C484.9,1373.7 490.6,1373.2 505.6,1372.0 C520.6,1370.8 545.6,1369.3 562.0,1368.0 C578.4,1366.7 586.3,1366.0 604.0,1364.0 C621.7,1362.0 649.5,1358.3 668.0,1356.0 C686.5,1353.7 700.9,1351.8 715.2,1350.0 C729.5,1348.2 739.9,1347.8 753.8,1345.0 C767.7,1342.2 783.5,1340.5 798.4,1333.0 C813.3,1325.5 828.6,1309.0 843.4,1299.7 C858.1,1290.4 873.3,1284.2 886.9,1276.9 C900.5,1269.6 911.3,1263.2 925.0,1256.0 C938.7,1248.8 954.5,1241.2 969.2,1233.5 C983.9,1225.8 994.2,1219.2 1013.4,1209.9 C1032.6,1200.6 1062.1,1185.8 1084.3,1177.4 C1106.5,1169.0 1127.1,1172.4 1146.3,1159.7 C1165.5,1147.0 1181.5,1114.9 1199.4,1101.4 C1217.3,1088.0 1236.8,1082.6 1253.6,1079.0 C1270.4,1075.4 1287.5,1080.3 1300.0,1079.8 C1312.5,1079.3 1317.2,1079.5 1328.8,1075.9 C1340.4,1072.3 1354.0,1065.5 1369.7,1058.0 C1385.4,1050.5 1406.9,1040.6 1422.8,1031.2 C1438.7,1021.8 1443.5,1019.6 1465.0,1001.7 C1486.5,983.8 1526.8,950.6 1552.0,923.7 C1577.2,896.8 1600.9,862.6 1616.2,840.4 C1631.5,818.2 1639.1,798.6 1643.7,790.3 C1631.3,795.6 1599.1,811.2 1569.5,822.0 C1539.9,832.8 1490.1,845.0 1465.9,855.0 C1441.7,865.0 1440.1,872.9 1424.2,882.0 C1408.3,891.1 1386.3,902.1 1370.5,909.9 C1354.7,917.7 1345.5,921.2 1329.6,928.8 C1313.7,936.4 1292.1,948.5 1275.3,955.6 C1258.5,962.7 1248.6,965.8 1228.8,971.3 C1209.0,976.8 1188.5,983.9 1156.5,988.6 C1124.5,993.3 1067.9,989.1 1036.9,999.7 C1005.9,1010.3 991.9,1043.4 970.5,1052.1 C949.1,1060.8 930.0,1052.1 908.6,1052.1 C887.2,1052.1 862.4,1052.1 842.2,1052.1 C822.0,1052.1 806.1,1052.1 787.3,1052.1 C768.5,1052.1 748.3,1052.1 729.2,1052.1 C710.1,1052.1 692.8,1052.1 672.9,1052.1 C653.0,1052.1 627.1,1052.1 610.1,1052.1 C593.1,1052.1 586.2,1052.1 570.8,1052.1 C555.3,1052.1 538.6,1052.1 517.4,1052.1 C496.2,1052.1 468.6,1052.1 443.4,1052.1 C418.1,1052.1 385.6,1052.1 365.9,1052.1 C346.2,1052.1 342.3,1052.1 325.3,1052.1 C308.3,1052.1 274.3,1052.1 264.1,1052.1" fill="none" stroke="#cab2d6" stroke-width="4.2" stroke-linejoin="round"/>
<ellipse cx="278.0" cy="1412.0" rx="14.7" ry="15.4" fill="#cab2d6"/>
<ellipse cx="326.0" cy="1406.0" rx="14.7" ry="15.4" fill="#cab2d6"/>
<ellipse cx="385.0" cy="1382.0" rx="14.7" ry="15.4" fill="#cab2d6"/>
<ellipse cx="428.0" cy="1380.0" rx="14.7" ry="15.4" fill="#cab2d6"/>
<ellipse cx="472.0" cy="1375.0" rx="14.7" ry="15.4" fill="#cab2d6"/>
<ellipse cx="505.6" cy="1372.0" rx="14.7" ry="15.4" fill="#cab2d6"/>
<ellipse cx="562.0" cy="1368.0" rx="14.7" ry="15.4" fill="#cab2d6"/>
<ellipse cx="604.0" cy="1364.0" rx="14.7" ry="15.4" fill="#cab2d6"/>
<ellipse cx="668.0" cy="1356.0" rx="14.7" ry="15.4" fill="#cab2d6"/>
<ellipse cx="715.2" cy="1350.0" rx="14.7" ry="15.4" fill="#cab2d6"/>
<ellipse cx="753.8" cy="1345.0" rx="14.7" ry="15.4" fill="#cab2d6"/>
<ellipse cx="798.4" cy="1333.0" rx="14.7" ry="15.4" fill="#cab2d6"/>
<ellipse cx="843.4" cy="1299.7" rx="14.7" ry="15.4" fill="#cab2d6"/>
<ellipse cx="886.9" cy="1276.9" rx="14.7" ry="15.4" fill="#cab2d6"/>
<ellipse cx="925.0" cy="1256.0" rx="14.7" ry="15.4" fill="#cab2d6"/>
<ellipse cx="969.2" cy="1233.5" rx="14.7" ry="15.4" fill="#cab2d6"/>
<ellipse cx="1013.4" cy="1209.9" rx="14.7" ry="15.4" fill="#cab2d6"/>
<ellipse cx="1084.3" cy="1177.4" rx="14.7" ry="15.4" fill="#cab2d6"/>
<ellipse cx="1146.3" cy="1159.7" rx="14.7" ry="15.4" fill="#cab2d6"/>
<ellipse cx="1199.4" cy="1101.4" rx="14.7" ry="15.4" fill="#cab2d6"/>
<ellipse cx="1253.6" cy="1079.0" rx="14.7" ry="15.4" fill="#cab2d6"/>
<ellipse cx="1300.0" cy="1079.8" rx="14.7" ry="15.4" fill="#cab2d6"/>
<ellipse cx="1328.8" cy="1075.9" rx="14.7" ry="15.4" fill="#cab2d6"/>
<ellipse cx="1369.7" cy="1058.0" rx="14.7" ry="15.4" fill="#cab2d6"/>
<ellipse cx="1422.8" cy="1031.2" rx="14.7" ry="15.4" fill="#cab2d6"/>
<ellipse cx="1465.0" cy="1001.7" rx="14.7" ry="15.4" fill="#cab2d6"/>
<ellipse cx="1552.0" cy="923.7" rx="14.7" ry="15.4" fill="#cab2d6"/>
<ellipse cx="1616.2" cy="840.4" rx="14.7" ry="15.4" fill="#cab2d6"/>
<ellipse cx="1643.7" cy="790.3" rx="14.7" ry="15.4" fill="#cab2d6"/>
<ellipse cx="1569.5" cy="822.0" rx="14.7" ry="15.4" fill="#cab2d6"/>
<ellipse cx="1465.9" cy="855.0" rx="14.7" ry="15.4" fill="#cab2d6"/>
<ellipse cx="1424.2" cy="882.0" rx="14.7" ry="15.4" fill="#cab2d6"/>
<ellipse cx="1370.5" cy="909.9" rx="14.7" ry="15.4" fill="#cab2d6"/>
<ellipse cx="1329.6" cy="928.8" rx="14.7" ry="15.4" fill="#cab2d6"/>
<ellipse cx="1275.3" cy="955.6" rx="14.7" ry="15.4" fill="#cab2d6"/>
<ellipse cx="1228.8" cy="971.3" rx="14.7" ry="15.4" fill="#cab2d6"/>
<ellipse cx="1156.5" cy="988.6" rx="14.7" ry="15.4" fill="#cab2d6"/>
<ellipse cx="1036.9" cy="999.7" rx="14.7" ry="15.4" fill="#cab2d6"/>
<ellipse cx="970.5" cy="1052.1" rx="14.7" ry="15.4" fill="#cab2d6"/>
<ellipse cx="908.6" cy="1052.1" rx="14.7" ry="15.4" fill="#cab2d6"/>
<ellipse cx="842.2" cy="1052.1" rx="14.7" ry="15.4" fill="#cab2d6"/>
<ellipse cx="787.3" cy="1052.1" rx="14.7" ry="15.4" fill="#cab2d6"/>
<ellipse cx="729.2" cy="1052.1" rx="14.7" ry="15.4" fill="#cab2d6"/>
<ellipse cx="672.9" cy="1052.1" rx="14.7" ry="15.4" fill="#cab2d6"/>
<ellipse cx="610.1" cy="1052.1" rx="14.7" ry="15.4" fill="#cab2d6"/>
<ellipse cx="570.8" cy="1052.1" rx="14.7" ry="15.4" fill="#cab2d6"/>
<ellipse cx="517.4" cy="1052.1" rx="14.7" ry="15.4" fill="#cab2d6"/>
<ellipse cx="443.4" cy="1052.1" rx="14.7" ry="15.4" fill="#cab2d6"/>
<ellipse cx="365.9" cy="1052.1" rx="14.7" ry="15.4" fill="#cab2d6"/>
<ellipse cx="325.3" cy="1052.1" rx="14.7" ry="15.4" fill="#cab2d6"/>
<ellipse cx="264.1" cy="1052.1" rx="14.7" ry="15.4" fill="#cab2d6"/>
<path d="M278.0,1414.0 C286.0,1413.7 308.7,1413.0 326.0,1412.0 C343.3,1411.0 363.9,1412.0 382.0,1408.0 C400.1,1404.0 418.8,1392.0 434.3,1388.0 C449.8,1384.0 461.6,1384.9 474.9,1384.0 C488.2,1383.1 498.6,1382.6 514.0,1382.6 C529.4,1382.6 550.7,1384.6 567.0,1384.0 C583.3,1383.4 594.8,1380.1 611.9,1379.0 C629.0,1377.9 653.2,1379.5 669.5,1377.6 C685.8,1375.7 695.2,1369.5 709.5,1367.5 C723.8,1365.5 740.2,1370.2 755.3,1365.3 C770.4,1360.4 785.0,1344.2 800.0,1338.0 C815.0,1331.8 830.6,1330.6 845.2,1328.1 C859.8,1325.6 874.4,1324.9 887.7,1322.8 C901.0,1320.7 911.4,1319.2 924.8,1315.7 C938.2,1312.2 952.8,1308.6 968.2,1301.5 C983.6,1294.4 997.7,1290.2 1017.3,1272.9 C1036.9,1255.7 1064.3,1225.5 1085.8,1198.0 C1107.3,1170.5 1127.1,1134.8 1146.3,1108.0 C1165.5,1081.2 1182.6,1059.4 1200.7,1037.4 C1218.8,1015.4 1238.5,994.4 1255.0,976.0 C1271.5,957.6 1287.4,940.1 1299.9,927.2 C1312.4,914.4 1318.0,910.6 1329.8,898.9 C1341.6,887.2 1354.8,872.0 1370.5,857.1 C1386.2,842.2 1407.8,824.4 1423.7,809.7 C1439.6,795.0 1444.4,792.1 1465.9,768.8 C1487.4,745.4 1528.0,702.0 1552.9,669.6 C1577.8,637.2 1600.4,598.1 1615.5,574.3 C1630.6,550.5 1639.0,534.9 1643.7,527.0 C1631.3,530.9 1599.1,543.3 1569.5,550.5 C1539.9,557.7 1490.1,562.8 1465.9,570.4 C1441.7,578.0 1440.1,587.9 1424.2,596.0 C1408.3,604.1 1386.3,612.4 1370.5,619.0 C1354.7,625.6 1345.5,629.7 1329.6,635.8 C1313.7,641.9 1292.1,649.8 1275.3,655.5 C1258.5,661.2 1248.6,665.2 1228.8,670.3 C1209.0,675.4 1188.5,681.2 1156.5,686.3 C1124.5,691.4 1067.9,696.3 1036.9,700.8 C1005.9,705.3 991.9,709.1 970.5,713.1 C949.1,717.1 930.0,721.2 908.6,724.9 C887.2,728.6 862.4,731.5 842.2,735.3 C822.0,739.1 806.1,742.8 787.3,747.6 C768.5,752.5 748.3,760.7 729.2,764.4 C710.1,768.1 692.8,769.0 672.9,769.9 C653.0,770.8 627.1,769.9 610.1,769.9 C593.1,769.9 586.2,769.9 570.8,769.9 C555.3,769.9 538.6,769.9 517.4,769.9 C496.2,769.9 468.6,769.9 443.4,769.9 C418.1,769.9 385.6,769.9 365.9,769.9 C346.2,769.9 342.3,769.9 325.3,769.9 C308.3,769.9 274.3,769.9 264.1,769.9" fill="none" stroke="#6a3d9a" stroke-width="4.2" stroke-linejoin="round"/>
<ellipse cx="278.0" cy="1414.0" rx="14.7" ry="15.4" fill="#6a3d9a"/>
<ellipse cx="326.0" cy="1412.0" rx="14.7" ry="15.4" fill="#6a3d9a"/>
<ellipse cx="382.0" cy="1408.0" rx="14.7" ry="15.4" fill="#6a3d9a"/>
<ellipse cx="434.3" cy="1388.0" rx="14.7" ry="15.4" fill="#6a3d9a"/>
<ellipse cx="474.9" cy="1384.0" rx="14.7" ry="15.4" fill="#6a3d9a"/>
<ellipse cx="514.0" cy="1382.6" rx="14.7" ry="15.4" fill="#6a3d9a"/>
<ellipse cx="567.0" cy="1384.0" rx="14.7" ry="15.4" fill="#6a3d9a"/>
<ellipse cx="611.9" cy="1379.0" rx="14.7" ry="15.4" fill="#6a3d9a"/>
<ellipse cx="669.5" cy="1377.6" rx="14.7" ry="15.4" fill="#6a3d9a"/>
<ellipse cx="709.5" cy="1367.5" rx="14.7" ry="15.4" fill="#6a3d9a"/>
<ellipse cx="755.3" cy="1365.3" rx="14.7" ry="15.4" fill="#6a3d9a"/>
<ellipse cx="800.0" cy="1338.0" rx="14.7" ry="15.4" fill="#6a3d9a"/>
<ellipse cx="845.2" cy="1328.1" rx="14.7" ry="15.4" fill="#6a3d9a"/>
<ellipse cx="887.7" cy="1322.8" rx="14.7" ry="15.4" fill="#6a3d9a"/>
<ellipse cx="924.8" cy="1315.7" rx="14.7" ry="15.4" fill="#6a3d9a"/>
<ellipse cx="968.2" cy="1301.5" rx="14.7" ry="15.4" fill="#6a3d9a"/>
<ellipse cx="1017.3" cy="1272.9" rx="14.7" ry="15.4" fill="#6a3d9a"/>
<ellipse cx="1085.8" cy="1198.0" rx="14.7" ry="15.4" fill="#6a3d9a"/>
<ellipse cx="1146.3" cy="1108.0" rx="14.7" ry="15.4" fill="#6a3d9a"/>
<ellipse cx="1200.7" cy="1037.4" rx="14.7" ry="15.4" fill="#6a3d9a"/>
<ellipse cx="1255.0" cy="976.0" rx="14.7" ry="15.4" fill="#6a3d9a"/>
<ellipse cx="1299.9" cy="927.2" rx="14.7" ry="15.4" fill="#6a3d9a"/>
<ellipse cx="1329.8" cy="898.9" rx="14.7" ry="15.4" fill="#6a3d9a"/>
<ellipse cx="1370.5" cy="857.1" rx="14.7" ry="15.4" fill="#6a3d9a"/>
<ellipse cx="1423.7" cy="809.7" rx="14.7" ry="15.4" fill="#6a3d9a"/>
<ellipse cx="1465.9" cy="768.8" rx="14.7" ry="15.4" fill="#6a3d9a"/>
<ellipse cx="1552.9" cy="669.6" rx="14.7" ry="15.4" fill="#6a3d9a"/>
<ellipse cx="1615.5" cy="574.3" rx="14.7" ry="15.4" fill="#6a3d9a"/>
<ellipse cx="1643.7" cy="527.0" rx="14.7" ry="15.4" fill="#6a3d9a"/>
<ellipse cx="1569.5" cy="550.5" rx="14.7" ry="15.4" fill="#6a3d9a"/>
<ellipse cx="1465.9" cy="570.4" rx="14.7" ry="15.4" fill="#6a3d9a"/>
<ellipse cx="1424.2" cy="596.0" rx="14.7" ry="15.4" fill="#6a3d9a"/>
<ellipse cx="1370.5" cy="619.0" rx="14.7" ry="15.4" fill="#6a3d9a"/>
<ellipse cx="1329.6" cy="635.8" rx="14.7" ry="15.4" fill="#6a3d9a"/>
<ellipse cx="1275.3" cy="655.5" rx="14.7" ry="15.4" fill="#6a3d9a"/>
<ellipse cx="1228.8" cy="670.3" rx="14.7" ry="15.4" fill="#6a3d9a"/>
<ellipse cx="1156.5" cy="686.3" rx="14.7" ry="15.4" fill="#6a3d9a"/>
<ellipse cx="1036.9" cy="700.8" rx="14.7" ry="15.4" fill="#6a3d9a"/>
<ellipse cx="970.5" cy="713.1" rx="14.7" ry="15.4" fill="#6a3d9a"/>
<ellipse cx="908.6" cy="724.9" rx="14.7" ry="15.4" fill="#6a3d9a"/>
<ellipse cx="842.2" cy="735.3" rx="14.7" ry="15.4" fill="#6a3d9a"/>
<ellipse cx="787.3" cy="747.6" rx="14.7" ry="15.4" fill="#6a3d9a"/>
<ellipse cx="729.2" cy="764.4" rx="14.7" ry="15.4" fill="#6a3d9a"/>
<ellipse cx="672.9" cy="769.9" rx="14.7" ry="15.4" fill="#6a3d9a"/>
<ellipse cx="610.1" cy="769.9" rx="14.7" ry="15.4" fill="#6a3d9a"/>
<ellipse cx="570.8" cy="769.9" rx="14.7" ry="15.4" fill="#6a3d9a"/>
<ellipse cx="517.4" cy="769.9" rx="14.7" ry="15.4" fill="#6a3d9a"/>
<ellipse cx="443.4" cy="769.9" rx="14.7" ry="15.4" fill="#6a3d9a"/>
<ellipse cx="365.9" cy="769.9" rx="14.7" ry="15.4" fill="#6a3d9a"/>
<ellipse cx="325.3" cy="769.9" rx="14.7" ry="15.4" fill="#6a3d9a"/>
<ellipse cx="264.1" cy="769.9" rx="14.7" ry="15.4" fill="#6a3d9a"/>
<path d="M360.0,1420.0 C367.5,1415.8 389.4,1399.8 404.8,1395.0 C420.2,1390.2 437.6,1392.9 452.7,1391.4 C467.8,1389.9 480.8,1387.0 495.5,1386.0 C510.2,1385.0 525.4,1387.1 541.0,1385.7 C556.6,1384.3 572.3,1380.0 589.0,1377.6 C605.7,1375.1 623.4,1374.6 641.4,1371.0 C659.4,1367.4 681.1,1360.2 697.0,1356.0 C712.9,1351.8 723.3,1349.5 736.8,1346.0 C750.3,1342.5 763.6,1339.5 778.1,1334.7 C792.6,1329.9 809.0,1322.6 823.9,1317.4 C838.8,1312.2 853.1,1308.5 867.3,1303.3 C881.5,1298.1 896.4,1291.8 908.9,1286.0 C921.4,1280.2 927.9,1276.6 942.3,1268.3 C956.6,1260.0 979.2,1247.0 995.0,1236.4 C1010.8,1225.8 1017.5,1222.4 1037.1,1204.7 C1056.6,1187.0 1088.6,1156.1 1112.3,1130.2 C1136.0,1104.3 1160.2,1072.5 1179.5,1049.2 C1198.8,1025.9 1212.4,1009.5 1228.3,990.2 C1244.2,970.9 1259.9,950.4 1274.7,933.5 C1289.5,916.6 1305.1,902.1 1317.2,888.7 C1329.3,875.3 1333.9,866.9 1347.5,853.2 C1361.1,839.5 1382.3,820.8 1398.6,806.7 C1414.9,792.6 1427.5,784.4 1445.4,768.8 C1463.4,753.2 1481.6,739.8 1506.3,713.1 C1531.0,686.4 1570.9,640.1 1593.8,608.6 C1616.7,577.1 1635.4,538.4 1643.7,524.4 C1639.2,527.8 1639.6,537.6 1616.8,544.9 C1594.0,552.1 1535.1,558.7 1506.8,567.9 C1478.5,577.1 1464.6,591.0 1446.7,600.0 C1428.8,609.0 1415.9,614.4 1399.4,622.0 C1382.9,629.6 1364.1,637.5 1347.5,645.5 C1330.9,653.5 1315.2,662.7 1299.6,670.3 C1283.9,677.9 1270.2,684.5 1253.6,691.3 C1237.0,698.1 1225.6,705.0 1199.9,711.3 C1174.2,717.6 1133.7,723.5 1099.7,729.1 C1065.7,734.7 1022.1,739.7 995.9,744.6 C969.7,749.5 963.8,754.2 942.3,758.6 C920.8,763.0 888.6,766.2 867.2,770.9 C845.8,775.6 832.2,780.6 813.9,786.9 C795.5,793.2 776.4,803.1 757.1,808.6 C737.8,814.1 716.8,817.9 698.0,819.8 C679.2,821.7 662.5,819.8 644.6,819.8 C626.7,819.8 607.1,819.8 590.5,819.8 C573.9,819.8 562.5,819.8 545.0,819.8 C527.5,819.8 510.6,819.8 485.2,819.8 C459.8,819.8 415.4,819.8 392.5,819.8 C369.6,819.8 363.1,819.8 347.5,819.8 C331.9,819.8 312.9,819.8 299.0,819.8 C285.1,819.8 269.9,819.8 264.1,819.8" fill="none" stroke="#b2df8a" stroke-width="4.2" stroke-linejoin="round"/>
<ellipse cx="360.0" cy="1420.0" rx="14.7" ry="15.4" fill="#b2df8a"/>
<ellipse cx="404.8" cy="1395.0" rx="14.7" ry="15.4" fill="#b2df8a"/>
<ellipse cx="452.7" cy="1391.4" rx="14.7" ry="15.4" fill="#b2df8a"/>
<ellipse cx="495.5" cy="1386.0" rx="14.7" ry="15.4" fill="#b2df8a"/>
<ellipse cx="541.0" cy="1385.7" rx="14.7" ry="15.4" fill="#b2df8a"/>
<ellipse cx="589.0" cy="1377.6" rx="14.7" ry="15.4" fill="#b2df8a"/>
<ellipse cx="641.4" cy="1371.0" rx="14.7" ry="15.4" fill="#b2df8a"/>
<ellipse cx="697.0" cy="1356.0" rx="14.7" ry="15.4" fill="#b2df8a"/>
<ellipse cx="736.8" cy="1346.0" rx="14.7" ry="15.4" fill="#b2df8a"/>
<ellipse cx="778.1" cy="1334.7" rx="14.7" ry="15.4" fill="#b2df8a"/>
<ellipse cx="823.9" cy="1317.4" rx="14.7" ry="15.4" fill="#b2df8a"/>
<ellipse cx="867.3" cy="1303.3" rx="14.7" ry="15.4" fill="#b2df8a"/>
<ellipse cx="908.9" cy="1286.0" rx="14.7" ry="15.4" fill="#b2df8a"/>
<ellipse cx="942.3" cy="1268.3" rx="14.7" ry="15.4" fill="#b2df8a"/>
<ellipse cx="995.0" cy="1236.4" rx="14.7" ry="15.4" fill="#b2df8a"/>
<ellipse cx="1037.1" cy="1204.7" rx="14.7" ry="15.4" fill="#b2df8a"/>
<ellipse cx="1112.3" cy="1130.2" rx="14.7" ry="15.4" fill="#b2df8a"/>
<ellipse cx="1179.5" cy="1049.2" rx="14.7" ry="15.4" fill="#b2df8a"/>
<ellipse cx="1228.3" cy="990.2" rx="14.7" ry="15.4" fill="#b2df8a"/>
<ellipse cx="1274.7" cy="933.5" rx="14.7" ry="15.4" fill="#b2df8a"/>
<ellipse cx="1317.2" cy="888.7" rx="14.7" ry="15.4" fill="#b2df8a"/>
<ellipse cx="1347.5" cy="853.2" rx="14.7" ry="15.4" fill="#b2df8a"/>
<ellipse cx="1398.6" cy="806.7" rx="14.7" ry="15.4" fill="#b2df8a"/>
<ellipse cx="1445.4" cy="768.8" rx="14.7" ry="15.4" fill="#b2df8a"/>
<ellipse cx="1506.3" cy="713.1" rx="14.7" ry="15.4" fill="#b2df8a"/>
<ellipse cx="1593.8" cy="608.6" rx="14.7" ry="15.4" fill="#b2df8a"/>
<ellipse cx="1643.7" cy="524.4" rx="14.7" ry="15.4" fill="#b2df8a"/>
<ellipse cx="1616.8" cy="544.9" rx="14.7" ry="15.4" fill="#b2df8a"/>
<ellipse cx="1506.8" cy="567.9" rx="14.7" ry="15.4" fill="#b2df8a"/>
<ellipse cx="1446.7" cy="600.0" rx="14.7" ry="15.4" fill="#b2df8a"/>
<ellipse cx="1399.4" cy="622.0" rx="14.7" ry="15.4" fill="#b2df8a"/>
<ellipse cx="1347.5" cy="645.5" rx="14.7" ry="15.4" fill="#b2df8a"/>
<ellipse cx="1299.6" cy="670.3" rx="14.7" ry="15.4" fill="#b2df8a"/>
<ellipse cx="1253.6" cy="691.3" rx="14.7" ry="15.4" fill="#b2df8a"/>
<ellipse cx="1199.9" cy="711.3" rx="14.7" ry="15.4" fill="#b2df8a"/>
<ellipse cx="1099.7" cy="729.1" rx="14.7" ry="15.4" fill="#b2df8a"/>
<ellipse cx="995.9" cy="744.6" rx="14.7" ry="15.4" fill="#b2df8a"/>
<ellipse cx="942.3" cy="758.6" rx="14.7" ry="15.4" fill="#b2df8a"/>
<ellipse cx="867.2" cy="770.9" rx="14.7" ry="15.4" fill="#b2df8a"/>
<ellipse cx="813.9" cy="786.9" rx="14.7" ry="15.4" fill="#b2df8a"/>
<ellipse cx="757.1" cy="808.6" rx="14.7" ry="15.4" fill="#b2df8a"/>
<ellipse cx="698.0" cy="819.8" rx="14.7" ry="15.4" fill="#b2df8a"/>
<ellipse cx="644.6" cy="819.8" rx="14.7" ry="15.4" fill="#b2df8a"/>
<ellipse cx="590.5" cy="819.8" rx="14.7" ry="15.4" fill="#b2df8a"/>
<ellipse cx="545.0" cy="819.8" rx="14.7" ry="15.4" fill="#b2df8a"/>
<ellipse cx="485.2" cy="819.8" rx="14.7" ry="15.4" fill="#b2df8a"/>
<ellipse cx="392.5" cy="819.8" rx="14.7" ry="15.4" fill="#b2df8a"/>
<ellipse cx="347.5" cy="819.8" rx="14.7" ry="15.4" fill="#b2df8a"/>
<ellipse cx="299.0" cy="819.8" rx="14.7" ry="15.4" fill="#b2df8a"/>
<ellipse cx="264.1" cy="819.8" rx="14.7" ry="15.4" fill="#b2df8a"/>
<path d="M278.0,1410.0 C287.3,1409.0 318.4,1414.3 334.0,1404.0 C349.6,1393.7 362.3,1357.3 371.7,1348.0 C381.1,1338.7 380.1,1348.0 390.2,1348.0 C400.3,1348.0 418.0,1348.2 432.1,1348.3 C446.2,1348.3 462.0,1348.3 474.9,1348.3 C487.8,1348.3 494.9,1348.3 509.5,1348.3 C524.1,1348.3 546.3,1348.5 562.5,1348.5 C578.7,1348.5 589.0,1348.5 606.7,1348.5 C624.4,1348.5 650.5,1348.5 668.7,1348.5 C687.0,1348.5 701.9,1348.6 716.2,1348.6 C730.5,1348.6 740.6,1348.6 754.5,1348.6 C768.4,1348.6 784.2,1348.6 799.5,1348.6 C814.8,1348.6 831.5,1348.6 846.0,1348.6 C860.5,1348.6 873.5,1348.6 886.8,1348.6 C900.1,1348.6 912.4,1348.6 925.7,1348.6 C939.0,1348.6 951.3,1348.6 966.5,1348.6 C981.7,1348.6 997.2,1348.6 1017.0,1348.6 C1036.8,1348.6 1063.5,1348.6 1085.0,1348.6 C1106.5,1348.6 1126.8,1348.8 1146.0,1348.6 C1165.2,1348.4 1182.2,1347.9 1199.9,1347.5 C1217.6,1347.1 1235.7,1349.7 1252.3,1346.0 C1268.9,1342.3 1286.8,1334.8 1299.6,1325.1 C1312.4,1315.4 1317.3,1301.4 1329.0,1288.0 C1340.7,1274.6 1354.3,1259.0 1370.0,1244.5 C1385.7,1230.0 1407.4,1214.4 1423.2,1201.0 C1439.0,1187.6 1443.3,1180.2 1464.6,1164.0 C1485.8,1147.8 1525.4,1124.7 1550.7,1104.1 C1576.0,1083.5 1600.6,1057.2 1616.2,1040.2 C1631.8,1023.2 1639.5,1008.2 1644.2,1001.8 C1631.8,1005.7 1599.6,1018.4 1569.7,1025.4 C1539.8,1032.4 1489.3,1038.0 1464.9,1043.9 C1440.5,1049.8 1439.3,1054.8 1423.4,1060.8 C1407.5,1066.8 1385.5,1073.9 1369.7,1079.8 C1353.9,1085.7 1344.5,1090.9 1328.8,1096.4 C1313.1,1101.9 1292.2,1107.7 1275.3,1112.8 C1258.4,1117.9 1247.2,1122.5 1227.4,1127.2 C1207.6,1131.9 1188.3,1137.4 1156.6,1141.2 C1124.9,1145.0 1068.1,1147.8 1037.1,1150.0 C1006.1,1152.2 992.0,1151.2 970.6,1154.2 C949.2,1157.2 929.9,1165.6 908.6,1168.1 C887.3,1170.6 862.8,1168.8 842.6,1169.4 C822.4,1170.0 806.1,1171.4 787.3,1171.8 C768.4,1172.2 753.3,1171.8 729.5,1171.8 C705.7,1171.8 667.8,1171.8 644.6,1171.8 C621.4,1171.8 607.1,1171.8 590.5,1171.8 C573.9,1171.8 562.5,1171.8 545.0,1171.8 C527.5,1171.8 510.6,1171.8 485.2,1171.8 C459.8,1171.8 415.4,1171.8 392.5,1171.8 C369.6,1171.8 363.1,1171.8 347.5,1171.8 C331.9,1171.8 312.9,1171.8 299.0,1171.8 C285.1,1171.8 269.9,1171.8 264.1,1171.8" fill="none" stroke="#ffff99" stroke-width="4.2" stroke-linejoin="round"/>
<ellipse cx="278.0" cy="1410.0" rx="14.7" ry="15.4" fill="#ffff99"/>
<ellipse cx="334.0" cy="1404.0" rx="14.7" ry="15.4" fill="#ffff99"/>
<ellipse cx="371.7" cy="1348.0" rx="14.7" ry="15.4" fill="#ffff99"/>
<ellipse cx="390.2" cy="1348.0" rx="14.7" ry="15.4" fill="#ffff99"/>
<ellipse cx="432.1" cy="1348.3" rx="14.7" ry="15.4" fill="#ffff99"/>
<ellipse cx="474.9" cy="1348.3" rx="14.7" ry="15.4" fill="#ffff99"/>
<ellipse cx="509.5" cy="1348.3" rx="14.7" ry="15.4" fill="#ffff99"/>
<ellipse cx="562.5" cy="1348.5" rx="14.7" ry="15.4" fill="#ffff99"/>
<ellipse cx="606.7" cy="1348.5" rx="14.7" ry="15.4" fill="#ffff99"/>
<ellipse cx="668.7" cy="1348.5" rx="14.7" ry="15.4" fill="#ffff99"/>
<ellipse cx="716.2" cy="1348.6" rx="14.7" ry="15.4" fill="#ffff99"/>
<ellipse cx="754.5" cy="1348.6" rx="14.7" ry="15.4" fill="#ffff99"/>
<ellipse cx="799.5" cy="1348.6" rx="14.7" ry="15.4" fill="#ffff99"/>
<ellipse cx="846.0" cy="1348.6" rx="14.7" ry="15.4" fill="#ffff99"/>
<ellipse cx="886.8" cy="1348.6" rx="14.7" ry="15.4" fill="#ffff99"/>
<ellipse cx="925.7" cy="1348.6" rx="14.7" ry="15.4" fill="#ffff99"/>
<ellipse cx="966.5" cy="1348.6" rx="14.7" ry="15.4" fill="#ffff99"/>
<ellipse cx="1017.0" cy="1348.6" rx="14.7" ry="15.4" fill="#ffff99"/>
<ellipse cx="1085.0" cy="1348.6" rx="14.7" ry="15.4" fill="#ffff99"/>
<ellipse cx="1146.0" cy="1348.6" rx="14.7" ry="15.4" fill="#ffff99"/>
<ellipse cx="1199.9" cy="1347.5" rx="14.7" ry="15.4" fill="#ffff99"/>
<ellipse cx="1252.3" cy="1346.0" rx="14.7" ry="15.4" fill="#ffff99"/>
<ellipse cx="1299.6" cy="1325.1" rx="14.7" ry="15.4" fill="#ffff99"/>
<ellipse cx="1329.0" cy="1288.0" rx="14.7" ry="15.4" fill="#ffff99"/>
<ellipse cx="1370.0" cy="1244.5" rx="14.7" ry="15.4" fill="#ffff99"/>
<ellipse cx="1423.2" cy="1201.0" rx="14.7" ry="15.4" fill="#ffff99"/>
<ellipse cx="1464.6" cy="1164.0" rx="14.7" ry="15.4" fill="#ffff99"/>
<ellipse cx="1550.7" cy="1104.1" rx="14.7" ry="15.4" fill="#ffff99"/>
<ellipse cx="1616.2" cy="1040.2" rx="14.7" ry="15.4" fill="#ffff99"/>
<ellipse cx="1644.2" cy="1001.8" rx="14.7" ry="15.4" fill="#ffff99"/>
<ellipse cx="1569.7" cy="1025.4" rx="14.7" ry="15.4" fill="#ffff99"/>
<ellipse cx="1464.9" cy="1043.9" rx="14.7" ry="15.4" fill="#ffff99"/>
<ellipse cx="1423.4" cy="1060.8" rx="14.7" ry="15.4" fill="#ffff99"/>
<ellipse cx="1369.7" cy="1079.8" rx="14.7" ry="15.4" fill="#ffff99"/>
<ellipse cx="1328.8" cy="1096.4" rx="14.7" ry="15.4" fill="#ffff99"/>
<ellipse cx="1275.3" cy="1112.8" rx="14.7" ry="15.4" fill="#ffff99"/>
<ellipse cx="1227.4" cy="1127.2" rx="14.7" ry="15.4" fill="#ffff99"/>
<ellipse cx="1156.6" cy="1141.2" rx="14.7" ry="15.4" fill="#ffff99"/>
<ellipse cx="1037.1" cy="1150.0" rx="14.7" ry="15.4" fill="#ffff99"/>
<ellipse cx="970.6" cy="1154.2" rx="14.7" ry="15.4" fill="#ffff99"/>
<ellipse cx="908.6" cy="1168.1" rx="14.7" ry="15.4" fill="#ffff99"/>
<ellipse cx="842.6" cy="1169.4" rx="14.7" ry="15.4" fill="#ffff99"/>
<ellipse cx="787.3" cy="1171.8" rx="14.7" ry="15.4" fill="#ffff99"/>
<ellipse cx="729.5" cy="1171.8" rx="14.7" ry="15.4" fill="#ffff99"/>
<ellipse cx="644.6" cy="1171.8" rx="14.7" ry="15.4" fill="#ffff99"/>
<ellipse cx="590.5" cy="1171.8" rx="14.7" ry="15.4" fill="#ffff99"/>
<ellipse cx="545.0" cy="1171.8" rx="14.7" ry="15.4" fill="#ffff99"/>
<ellipse cx="485.2" cy="1171.8" rx="14.7" ry="15.4" fill="#ffff99"/>
<ellipse cx="392.5" cy="1171.8" rx="14.7" ry="15.4" fill="#ffff99"/>
<ellipse cx="347.5" cy="1171.8" rx="14.7" ry="15.4" fill="#ffff99"/>
<ellipse cx="299.0" cy="1171.8" rx="14.7" ry="15.4" fill="#ffff99"/>
<ellipse cx="264.1" cy="1171.8" rx="14.7" ry="15.4" fill="#ffff99"/>
<path d="M278.0,1408.4 C286.1,1408.0 309.0,1406.5 326.7,1406.2 C344.4,1405.9 367.6,1406.8 384.3,1406.5 C401.0,1406.2 412.3,1405.2 426.9,1404.7 C441.5,1404.2 458.9,1403.5 471.9,1403.2 C484.9,1403.0 490.2,1403.4 505.1,1403.2 C520.0,1403.0 544.4,1402.2 561.0,1401.9 C577.6,1401.6 586.8,1401.5 604.5,1401.2 C622.2,1401.0 648.7,1400.5 667.2,1400.4 C685.7,1400.3 701.0,1400.7 715.4,1400.7 C729.8,1400.8 739.8,1400.7 753.8,1400.7 C767.8,1400.7 784.3,1400.7 799.5,1400.5 C814.7,1400.3 830.7,1399.9 845.2,1399.8 C859.8,1399.7 873.5,1399.8 886.8,1399.8 C900.1,1399.8 911.5,1399.8 924.8,1399.8 C938.1,1399.8 951.1,1399.8 966.5,1399.8 C981.9,1399.8 997.6,1399.8 1017.3,1399.8 C1037.0,1399.8 1063.4,1399.7 1084.9,1399.5 C1106.4,1399.3 1127.2,1399.0 1146.4,1398.5 C1165.6,1398.0 1182.0,1397.0 1199.9,1396.7 C1217.8,1396.4 1237.0,1397.1 1253.6,1396.7 C1270.2,1396.3 1287.0,1395.1 1299.6,1394.2 C1312.2,1393.3 1317.2,1392.5 1329.0,1391.6 C1340.8,1390.7 1354.6,1390.3 1370.5,1389.0 C1386.4,1387.7 1408.3,1385.4 1424.2,1383.9 C1440.1,1382.4 1444.5,1383.1 1465.9,1380.1 C1487.4,1377.1 1528.0,1370.3 1552.9,1366.0 C1577.8,1361.7 1600.4,1358.0 1615.5,1354.5 C1630.6,1351.0 1639.0,1346.6 1643.7,1345.0 C1631.3,1344.9 1599.1,1344.4 1569.5,1344.3 C1539.9,1344.2 1490.1,1343.9 1465.9,1344.3 C1441.7,1344.7 1440.1,1346.2 1424.2,1346.8 C1408.3,1347.4 1386.3,1347.7 1370.5,1348.1 C1354.7,1348.5 1345.5,1349.2 1329.6,1349.4 C1313.7,1349.6 1292.1,1349.0 1275.3,1349.4 C1258.5,1349.8 1248.6,1351.3 1228.8,1352.0 C1209.0,1352.7 1188.5,1352.7 1156.5,1353.5 C1124.5,1354.3 1067.9,1356.7 1036.9,1357.0 C1005.9,1357.3 991.9,1355.6 970.5,1355.5 C949.1,1355.4 930.0,1356.1 908.6,1356.4 C887.2,1356.7 862.4,1356.9 842.2,1357.3 C822.0,1357.7 806.1,1358.1 787.3,1358.6 C768.5,1359.1 748.3,1359.8 729.2,1360.1 C710.1,1360.4 692.8,1360.4 672.9,1360.6 C653.0,1360.8 627.1,1361.1 610.1,1361.3 C593.1,1361.5 586.2,1361.8 570.8,1362.0 C555.3,1362.2 538.6,1362.4 517.4,1362.6 C496.2,1362.8 468.6,1363.0 443.4,1363.4 C418.1,1363.8 385.6,1364.8 365.9,1365.2 C346.2,1365.6 342.3,1365.7 325.3,1366.0 C308.3,1366.3 274.3,1366.8 264.1,1367.0" fill="none" stroke="#b15928" stroke-width="4.2" stroke-linejoin="round"/>
<rect x="266.2" y="1396.6" width="23.6" height="23.6" fill="#fff" stroke="#b15928" stroke-width="6"/>
<rect x="314.9" y="1394.4" width="23.6" height="23.6" fill="#fff" stroke="#b15928" stroke-width="6"/>
<rect x="372.5" y="1394.7" width="23.6" height="23.6" fill="#fff" stroke="#b15928" stroke-width="6"/>
<rect x="415.1" y="1392.9" width="23.6" height="23.6" fill="#fff" stroke="#b15928" stroke-width="6"/>
<rect x="460.1" y="1391.4" width="23.6" height="23.6" fill="#fff" stroke="#b15928" stroke-width="6"/>
<rect x="493.3" y="1391.4" width="23.6" height="23.6" fill="#fff" stroke="#b15928" stroke-width="6"/>
<rect x="549.2" y="1390.1" width="23.6" height="23.6" fill="#fff" stroke="#b15928" stroke-width="6"/>
<rect x="592.7" y="1389.4" width="23.6" height="23.6" fill="#fff" stroke="#b15928" stroke-width="6"/>
<rect x="655.4" y="1388.6" width="23.6" height="23.6" fill="#fff" stroke="#b15928" stroke-width="6"/>
<rect x="703.6" y="1388.9" width="23.6" height="23.6" fill="#fff" stroke="#b15928" stroke-width="6"/>
<rect x="742.0" y="1388.9" width="23.6" height="23.6" fill="#fff" stroke="#b15928" stroke-width="6"/>
<rect x="787.7" y="1388.7" width="23.6" height="23.6" fill="#fff" stroke="#b15928" stroke-width="6"/>
<rect x="833.4" y="1388.0" width="23.6" height="23.6" fill="#fff" stroke="#b15928" stroke-width="6"/>
<rect x="875.0" y="1388.0" width="23.6" height="23.6" fill="#fff" stroke="#b15928" stroke-width="6"/>
<rect x="913.0" y="1388.0" width="23.6" height="23.6" fill="#fff" stroke="#b15928" stroke-width="6"/>
<rect x="954.7" y="1388.0" width="23.6" height="23.6" fill="#fff" stroke="#b15928" stroke-width="6"/>
<rect x="1005.5" y="1388.0" width="23.6" height="23.6" fill="#fff" stroke="#b15928" stroke-width="6"/>
<rect x="1073.1" y="1387.7" width="23.6" height="23.6" fill="#fff" stroke="#b15928" stroke-width="6"/>
<rect x="1134.6" y="1386.7" width="23.6" height="23.6" fill="#fff" stroke="#b15928" stroke-width="6"/>
<rect x="1188.1" y="1384.9" width="23.6" height="23.6" fill="#fff" stroke="#b15928" stroke-width="6"/>
<rect x="1241.8" y="1384.9" width="23.6" height="23.6" fill="#fff" stroke="#b15928" stroke-width="6"/>
<rect x="1287.8" y="1382.4" width="23.6" height="23.6" fill="#fff" stroke="#b15928" stroke-width="6"/>
<rect x="1317.2" y="1379.8" width="23.6" height="23.6" fill="#fff" stroke="#b15928" stroke-width="6"/>
<rect x="1358.7" y="1377.2" width="23.6" height="23.6" fill="#fff" stroke="#b15928" stroke-width="6"/>
<rect x="1412.4" y="1372.1" width="23.6" height="23.6" fill="#fff" stroke="#b15928" stroke-width="6"/>
<rect x="1454.1" y="1368.3" width="23.6" height="23.6" fill="#fff" stroke="#b15928" stroke-width="6"/>
<rect x="1541.1" y="1354.2" width="23.6" height="23.6" fill="#fff" stroke="#b15928" stroke-width="6"/>
<rect x="1603.7" y="1342.7" width="23.6" height="23.6" fill="#fff" stroke="#b15928" stroke-width="6"/>
<rect x="1631.9" y="1333.2" width="23.6" height="23.6" fill="#fff" stroke="#b15928" stroke-width="6"/>
<rect x="1557.7" y="1332.5" width="23.6" height="23.6" fill="#fff" stroke="#b15928" stroke-width="6"/>
<rect x="1454.1" y="1332.5" width="23.6" height="23.6" fill="#fff" stroke="#b15928" stroke-width="6"/>
<rect x="1412.4" y="1335.0" width="23.6" height="23.6" fill="#fff" stroke="#b15928" stroke-width="6"/>
<rect x="1358.7" y="1336.3" width="23.6" height="23.6" fill="#fff" stroke="#b15928" stroke-width="6"/>
<rect x="1317.8" y="1337.6" width="23.6" height="23.6" fill="#fff" stroke="#b15928" stroke-width="6"/>
<rect x="1263.5" y="1337.6" width="23.6" height="23.6" fill="#fff" stroke="#b15928" stroke-width="6"/>
<rect x="1217.0" y="1340.2" width="23.6" height="23.6" fill="#fff" stroke="#b15928" stroke-width="6"/>
<rect x="1144.7" y="1341.7" width="23.6" height="23.6" fill="#fff" stroke="#b15928" stroke-width="6"/>
<rect x="1025.1" y="1345.2" width="23.6" height="23.6" fill="#fff" stroke="#b15928" stroke-width="6"/>
<rect x="958.7" y="1343.7" width="23.6" height="23.6" fill="#fff" stroke="#b15928" stroke-width="6"/>
<rect x="896.8" y="1344.6" width="23.6" height="23.6" fill="#fff" stroke="#b15928" stroke-width="6"/>
<rect x="830.4" y="1345.5" width="23.6" height="23.6" fill="#fff" stroke="#b15928" stroke-width="6"/>
<rect x="775.5" y="1346.8" width="23.6" height="23.6" fill="#fff" stroke="#b15928" stroke-width="6"/>
<rect x="717.4" y="1348.3" width="23.6" height="23.6" fill="#fff" stroke="#b15928" stroke-width="6"/>
<rect x="661.1" y="1348.8" width="23.6" height="23.6" fill="#fff" stroke="#b15928" stroke-width="6"/>
<rect x="598.3" y="1349.5" width="23.6" height="23.6" fill="#fff" stroke="#b15928" stroke-width="6"/>
<rect x="559.0" y="1350.2" width="23.6" height="23.6" fill="#fff" stroke="#b15928" stroke-width="6"/>
<rect x="505.6" y="1350.8" width="23.6" height="23.6" fill="#fff" stroke="#b15928" stroke-width="6"/>
<rect x="431.6" y="1351.6" width="23.6" height="23.6" fill="#fff" stroke="#b15928" stroke-width="6"/>
<rect x="354.1" y="1353.4" width="23.6" height="23.6" fill="#fff" stroke="#b15928" stroke-width="6"/>
<rect x="313.5" y="1354.2" width="23.6" height="23.6" fill="#fff" stroke="#b15928" stroke-width="6"/>
<rect x="252.3" y="1355.2" width="23.6" height="23.6" fill="#fff" stroke="#b15928" stroke-width="6"/>
</g>
<path d="M444.5,59.8H488.0M523.0,59.8H566.5" stroke="#a6cee3" stroke-width="4.2"/>
<ellipse cx="505.5" cy="59.8" rx="14.7" ry="15.4" fill="#a6cee3"/>
<text class="t" transform="translate(565.0,77.3) scale(1,1.04)" font-size="51.3">J40-1</text>
<path d="M742.9,59.8H786.4M821.4,59.8H864.9" stroke="#ff7f00" stroke-width="4.2"/>
<ellipse cx="803.9" cy="59.8" rx="14.7" ry="15.4" fill="#ff7f00"/>
<text class="t" transform="translate(863.4,77.3) scale(1,1.04)" font-size="51.3">J40-2</text>
<path d="M1041.8,59.8H1083.3M1122.3,59.8H1163.8" stroke="#33a02c" stroke-width="4.2"/>
<rect x="1091.0" y="48.0" width="23.6" height="23.6" fill="#fff" stroke="#33a02c" stroke-width="7.4"/>
<text class="t" transform="translate(1162.3,77.3) scale(1,1.04)" font-size="51.3">J40-3</text>
<path d="M1339.9,59.8H1383.4M1418.4,59.8H1461.9" stroke="#1f78b4" stroke-width="4.2"/>
<ellipse cx="1400.9" cy="59.8" rx="14.7" ry="15.4" fill="#1f78b4"/>
<text class="t" transform="translate(1460.4,77.3) scale(1,1.04)" font-size="51.3">J40-4</text>
<path d="M444.5,124.8H566.5" stroke="#000000" stroke-width="4.2"/>
<path d="M505.5,109.5v30.6M490.2,124.8h30.6M490.2,109.5l30.6,30.6M490.2,140.1l30.6,-30.6" stroke="#000000" stroke-width="6" stroke-linecap="round" fill="none"/>
<text class="t" transform="translate(565.0,142.3) scale(1,1.04)" font-size="51.3">J40-5</text>
<path d="M742.9,124.8H786.4M821.4,124.8H864.9" stroke="#e31a1c" stroke-width="4.2"/>
<ellipse cx="803.9" cy="124.8" rx="14.7" ry="15.4" fill="#e31a1c"/>
<text class="t" transform="translate(863.4,142.3) scale(1,1.04)" font-size="51.3">J40-6</text>
<path d="M1041.8,124.8H1085.3M1120.3,124.8H1163.8" stroke="#fdbf6f" stroke-width="4.2"/>
<ellipse cx="1102.8" cy="124.8" rx="14.7" ry="15.4" fill="#fdbf6f"/>
<text class="t" transform="translate(1162.3,142.3) scale(1,1.04)" font-size="51.3">J40-7</text>
<path d="M1339.9,124.8H1383.4M1418.4,124.8H1461.9" stroke="#cab2d6" stroke-width="4.2"/>
<ellipse cx="1400.9" cy="124.8" rx="14.7" ry="15.4" fill="#cab2d6"/>
<text class="t" transform="translate(1460.4,142.3) scale(1,1.04)" font-size="51.3">J40-8</text>
<path d="M444.5,189.7H488.0M523.0,189.7H566.5" stroke="#6a3d9a" stroke-width="4.2"/>
<ellipse cx="505.5" cy="189.7" rx="14.7" ry="15.4" fill="#6a3d9a"/>
<text class="t" transform="translate(565.0,207.2) scale(1,1.04)" font-size="51.3">J40-9</text>
<path d="M742.9,189.7H786.4M821.4,189.7H864.9" stroke="#b2df8a" stroke-width="4.2"/>
<ellipse cx="803.9" cy="189.7" rx="14.7" ry="15.4" fill="#b2df8a"/>
<text class="t" transform="translate(863.4,207.2) scale(1,1.04)" font-size="51.3">J40-10</text>
<path d="M1041.8,189.7H1085.3M1120.3,189.7H1163.8" stroke="#ffff99" stroke-width="4.2"/>
<ellipse cx="1102.8" cy="189.7" rx="14.7" ry="15.4" fill="#ffff99"/>
<text class="t" transform="translate(1162.3,207.2) scale(1,1.04)" font-size="51.3">J40-11</text>
<path d="M1339.9,189.7H1381.4M1420.4,189.7H1461.9" stroke="#b15928" stroke-width="4.2"/>
<rect x="1389.1" y="177.9" width="23.6" height="23.6" fill="#fff" stroke="#b15928" stroke-width="7.4"/>
<text class="t" transform="translate(1460.4,207.2) scale(1,1.04)" font-size="51.3">J40-12</text>
</svg></body></html>
